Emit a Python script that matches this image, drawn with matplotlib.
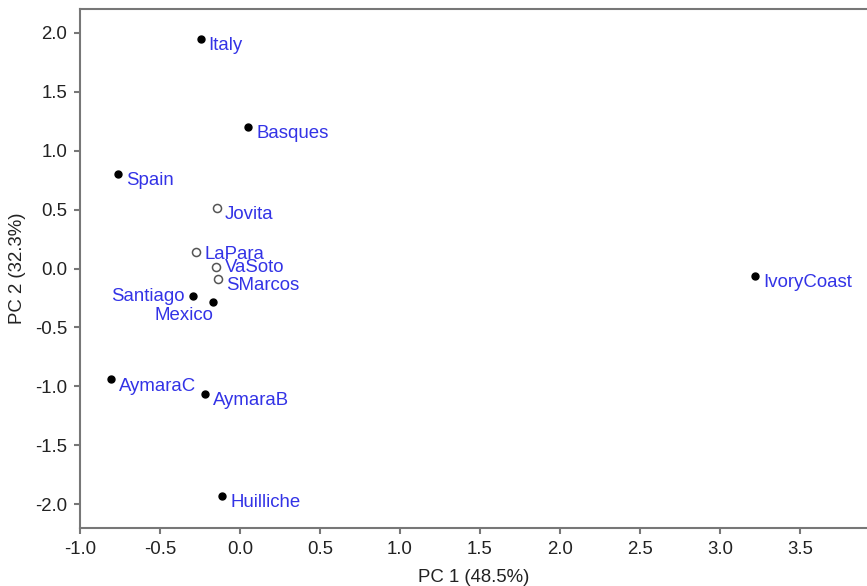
import matplotlib
matplotlib.use("Agg")
import matplotlib.pyplot as plt

plt.rcParams['font.family'] = ['Liberation Sans', 'DejaVu Sans']

# Data
names = ["Italy", "Basques", "Spain", "Jovita", "LaPara", "VaSoto", "SMarcos",
         "Santiago", "Mexico", "AymaraC", "AymaraB", "Huilliche", "IvoryCoast"]
pc1 = [-0.246, 0.052, -0.760, -0.146, -0.275, -0.150, -0.135,
       -0.296, -0.167, -0.806, -0.219, -0.110, 3.219]
pc2 = [1.947, 1.200, 0.804, 0.513, 0.137, 0.013, -0.089,
       -0.237, -0.288, -0.937, -1.062, -1.927, -0.061]
open_marker = [False, False, False, True, True, True, True,
               False, False, False, False, False, False]
xticks = [-1.0, -0.5, 0.0, 0.5, 1.0, 1.5, 2.0, 2.5, 3.0, 3.5]
yticks = [-2.0, -1.5, -1.0, -0.5, 0.0, 0.5, 1.0, 1.5, 2.0]

# label offsets in pixels (dx right, dy down) and alignment
label_style = {
    "Santiago": (-8, 0, "right"),
    "Mexico": (0, 13, "right"),
    "LaPara": (9, 2.5, "left"),
    "VaSoto": (9, 1, "left"),
}
default_style = (8, 7, "left")

W, H, DPI = 867, 586, 100
fig = plt.figure(figsize=(W / DPI, H / DPI), dpi=DPI)
left_px, right_px, top_px, bottom_px = 80, 868, 9, 528
ax = fig.add_axes([left_px / W, 1 - bottom_px / H,
                   (right_px - left_px) / W, (bottom_px - top_px) / H])

ax.set_xlim(-1.0, -1.0 + (right_px - left_px) / 160.0)
ax.set_ylim(-2.2, 2.2)

xs_f = [x for x, o in zip(pc1, open_marker) if not o]
ys_f = [y for y, o in zip(pc2, open_marker) if not o]
xs_o = [x for x, o in zip(pc1, open_marker) if o]
ys_o = [y for y, o in zip(pc2, open_marker) if o]
ax.plot(xs_f, ys_f, 'o', color='black', markersize=5.0, linestyle='none', zorder=3)
ax.plot(xs_o, ys_o, 'o', markerfacecolor='white', markeredgecolor='#555555',
        markeredgewidth=1.1, markersize=5.8, linestyle='none', zorder=3)

px2pt = 72.0 / DPI
for n, x, y in zip(names, pc1, pc2):
    dx, dy, ha = label_style.get(n, default_style)
    ax.annotate(n, (x, y), xytext=(dx * px2pt, -dy * px2pt), textcoords='offset points',
                ha=ha, va='center', color='#3333e6', fontsize=13.4, zorder=4)

ax.set_xticks(xticks)
ax.set_yticks(yticks)
ax.set_xticklabels([f"{t:.1f}" for t in xticks])
ax.set_yticklabels([f"{t:.1f}" for t in yticks])

for s in ['top', 'left', 'bottom']:
    ax.spines[s].set_color('#777777')
    ax.spines[s].set_linewidth(1.5)
ax.spines['right'].set_visible(False)

ax.tick_params(axis='both', direction='out', length=4, width=1.5, color='#777777',
               labelsize=13.4, labelcolor='#222222', pad=5)

ax.set_xlabel("PC 1 (48.5%)", fontsize=13.4, color='#222222', labelpad=8)
ax.set_ylabel("PC 2 (32.3%)", fontsize=13.4, color='#222222', labelpad=7)

fig.savefig("out.png", dpi=DPI)
